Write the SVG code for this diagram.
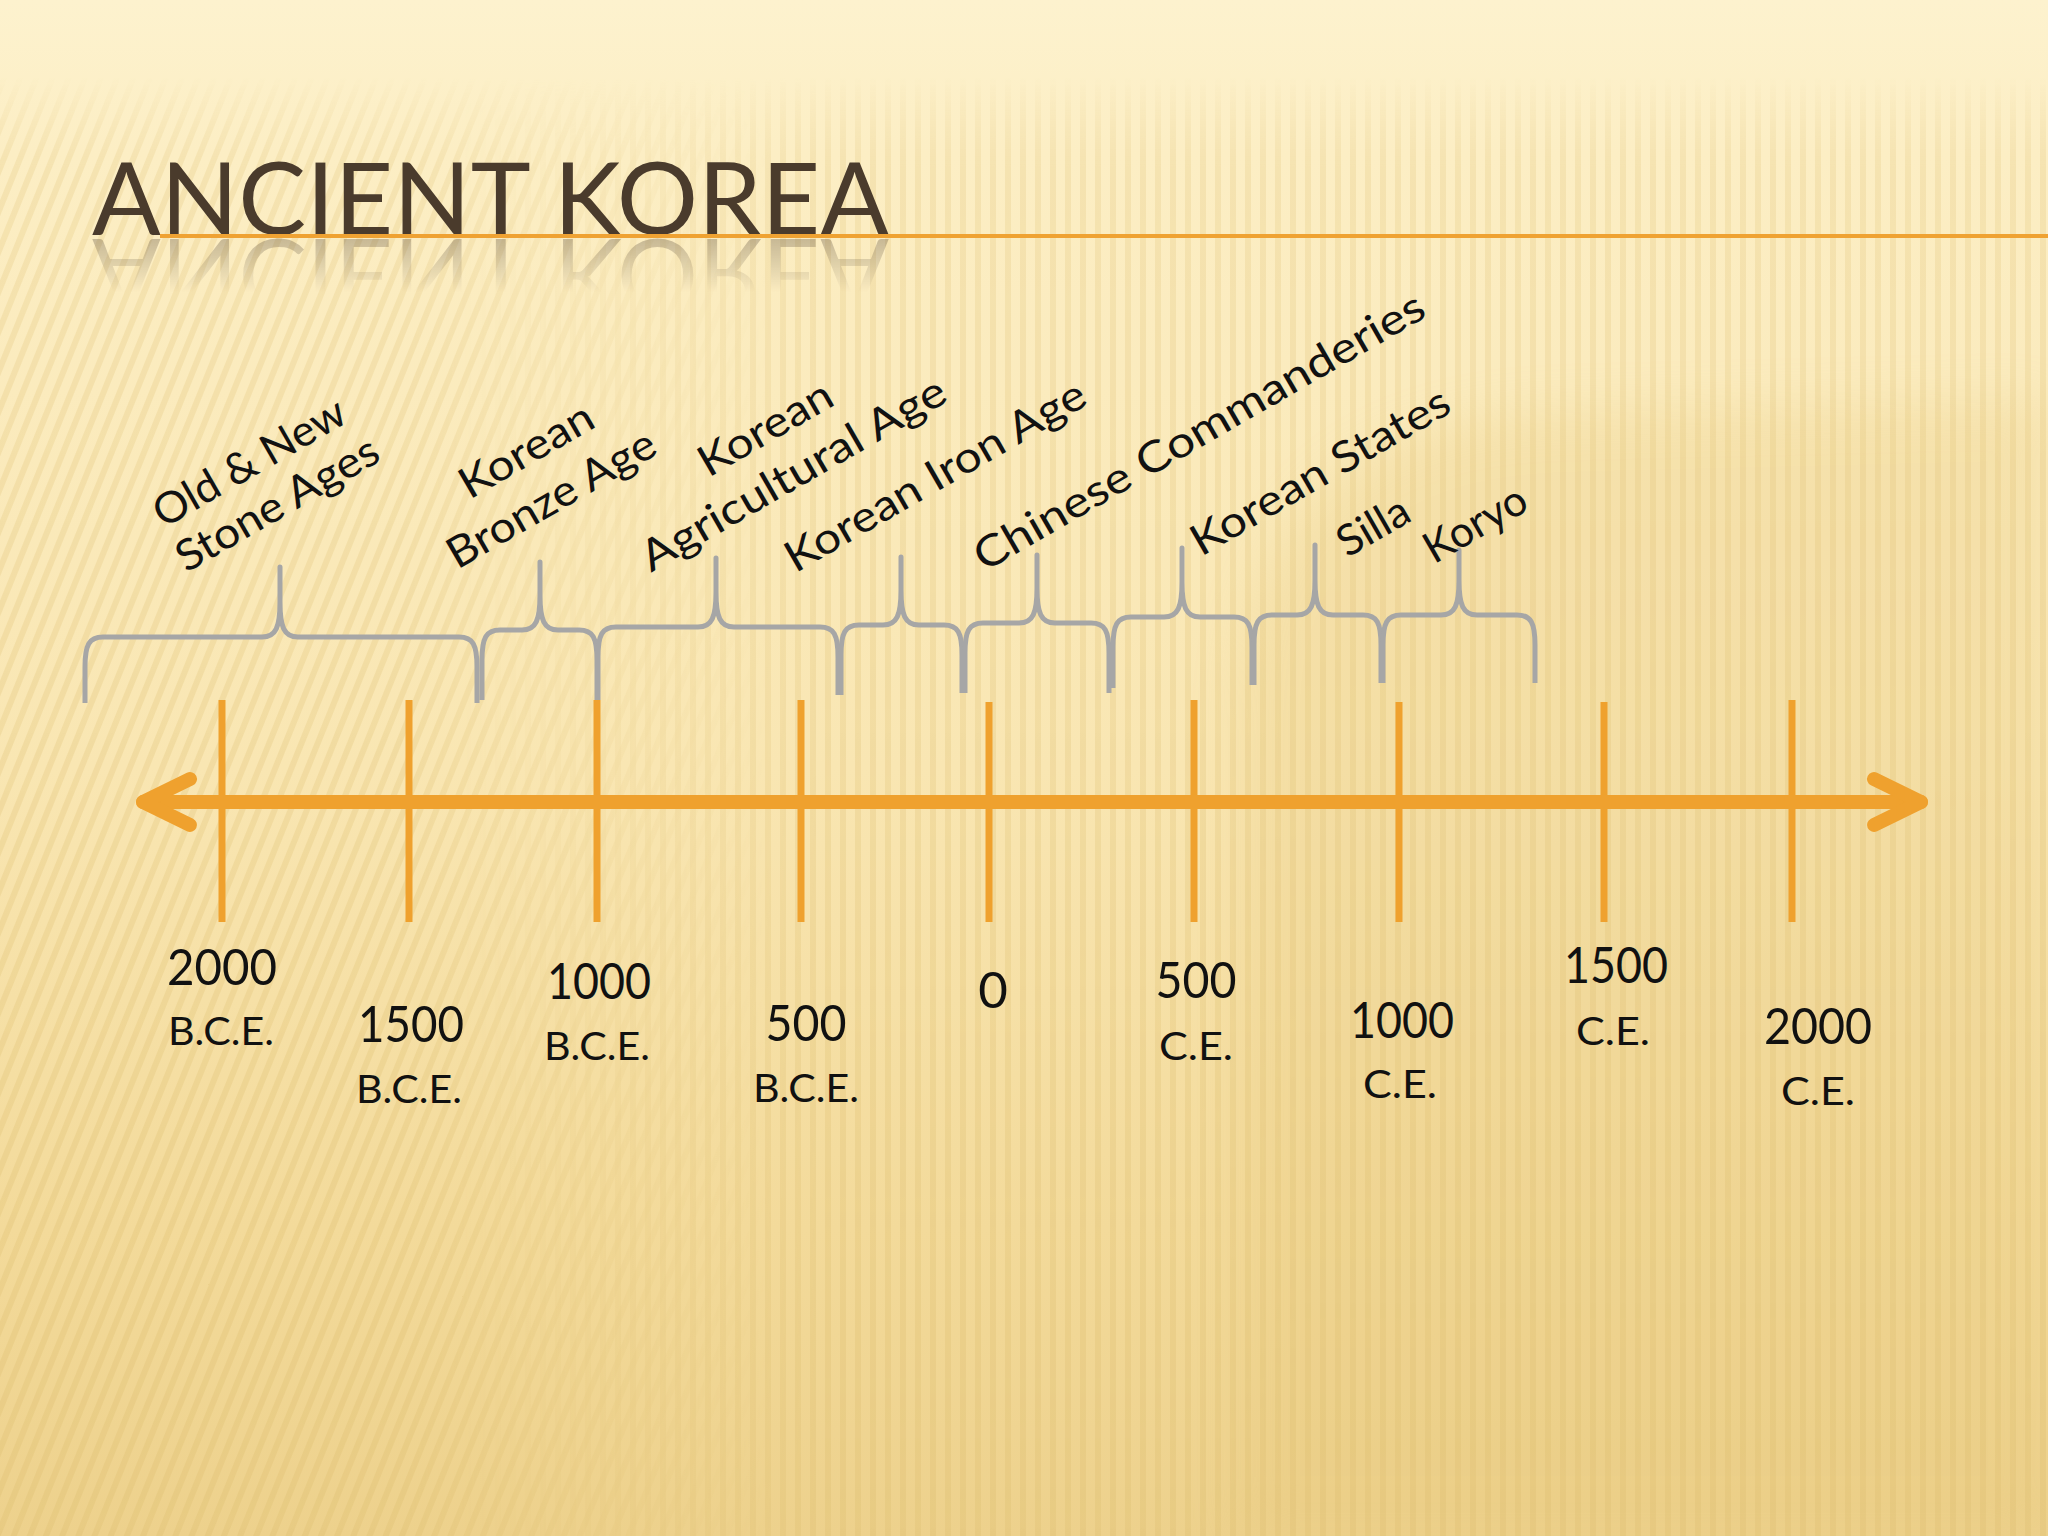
<svg xmlns="http://www.w3.org/2000/svg" width="2048" height="1536" viewBox="0 0 2048 1536">
<defs>
<style>
.lbl{font-family:Lato,"Liberation Sans",sans-serif;font-weight:400;font-size:43px;fill:#111111}
.num{font-family:Lato,"Liberation Sans",sans-serif;font-weight:400;font-size:51px;fill:#111111;text-anchor:middle}
.era{font-family:Lato,"Liberation Sans",sans-serif;font-weight:400;font-size:38px;fill:#111111;text-anchor:middle}
.title{font-family:Lato,"Liberation Sans",sans-serif;font-weight:400;font-size:101px;fill:#4A3B2C}
.brace{fill:none;stroke:#A6A6A6;stroke-width:5;stroke-linejoin:round;stroke-linecap:butt}
.axis{fill:none;stroke:#EFA12E;stroke-linecap:round;stroke-linejoin:round}
.tick{stroke:#EFA12E;stroke-width:7}
</style>
<linearGradient id="bg" x1="0" y1="0" x2="0" y2="1">
<stop offset="0" stop-color="#FDF2CE"/>
<stop offset="0.1" stop-color="#FCEEC4"/>
<stop offset="0.5" stop-color="#F9E6B2"/>
<stop offset="0.8" stop-color="#F3DA9A"/>
<stop offset="1" stop-color="#EDD18C"/>
</linearGradient>
<pattern id="stV" width="15" height="100" patternUnits="userSpaceOnUse">
<rect width="6" height="100" fill="#DDBE70"/>
</pattern>
<pattern id="stS" width="15" height="100" patternUnits="userSpaceOnUse" patternTransform="rotate(22)">
<rect width="6" height="100" fill="#DDBE70"/>
</pattern>
<linearGradient id="gL" x1="0" y1="0" x2="2048" y2="0" gradientUnits="userSpaceOnUse">
<stop offset="0" stop-color="#fff"/>
<stop offset="0.2" stop-color="#fff"/>
<stop offset="0.38" stop-color="#000"/>
</linearGradient>
<linearGradient id="gR" x1="0" y1="0" x2="2048" y2="0" gradientUnits="userSpaceOnUse">
<stop offset="0.22" stop-color="#000"/>
<stop offset="0.4" stop-color="#fff"/>
</linearGradient>
<linearGradient id="gT" x1="0" y1="0" x2="0" y2="1536" gradientUnits="userSpaceOnUse">
<stop offset="0.05" stop-color="#000"/>
<stop offset="0.11" stop-color="#fff" stop-opacity="0.7"/>
<stop offset="0.5" stop-color="#fff" stop-opacity="0.8"/>
<stop offset="1" stop-color="#fff"/>
</linearGradient>
<mask id="mL" maskUnits="userSpaceOnUse" x="0" y="0" width="2048" height="1536"><rect width="2048" height="1536" fill="url(#gL)"/></mask>
<mask id="mR" maskUnits="userSpaceOnUse" x="0" y="0" width="2048" height="1536"><rect width="2048" height="1536" fill="url(#gR)"/></mask>
<mask id="mT" maskUnits="userSpaceOnUse" x="0" y="0" width="2048" height="1536"><rect width="2048" height="1536" fill="url(#gT)"/></mask>
<linearGradient id="gRefl" x1="0" y1="238" x2="0" y2="292" gradientUnits="userSpaceOnUse">
<stop offset="0" stop-color="#fff" stop-opacity="0.3"/>
<stop offset="1" stop-color="#fff" stop-opacity="0"/>
</linearGradient>
<mask id="mRefl" maskUnits="userSpaceOnUse" x="0" y="238" width="2048" height="60"><rect x="0" y="238" width="2048" height="60" fill="url(#gRefl)"/></mask>
<filter id="blur" x="-20%" y="-20%" width="140%" height="140%"><feGaussianBlur stdDeviation="25"/></filter>
</defs>

<g id="background">
<rect width="2048" height="1536" fill="url(#bg)"/>
<path d="M1240,1536 L1240,720 Q1240,420 1560,412 L2048,400 L2048,1536 Z" fill="#E4C474" opacity="0.22" filter="url(#blur)"/>
<g mask="url(#mT)" opacity="0.32">
<rect width="2048" height="1536" fill="url(#stS)" mask="url(#mL)"/>
<rect width="2048" height="1536" fill="url(#stV)" mask="url(#mR)"/>
</g>
</g>

<g id="title">
<text class="title" x="92" y="235" textLength="797" lengthAdjust="spacingAndGlyphs">ANCIENT KOREA</text>
<g mask="url(#mRefl)">
<g transform="translate(0,474) scale(1,-1)">
<text class="title" x="92" y="235" textLength="797" lengthAdjust="spacingAndGlyphs" fill="#7A6A55">ANCIENT KOREA</text>
</g>
</g>
<line x1="160" y1="236" x2="2048" y2="236" stroke="#EFA232" stroke-width="4"/>
</g>

<g id="connectors">
<g id="axis">
<line class="axis" x1="143" y1="802" x2="1921" y2="802" stroke-width="14"/>
<polyline class="axis" points="1874,779 1921,802 1874,825" stroke-width="14"/>
<polyline class="axis" points="190,779 143,802 190,825" stroke-width="14"/>
<line class="tick" x1="222" y1="700" x2="222" y2="922"/>
<line class="tick" x1="409" y1="700" x2="409" y2="922"/>
<line class="tick" x1="597" y1="700" x2="597" y2="922"/>
<line class="tick" x1="801" y1="700" x2="801" y2="922"/>
<line class="tick" x1="989" y1="702" x2="989" y2="922"/>
<line class="tick" x1="1194" y1="700" x2="1194" y2="922"/>
<line class="tick" x1="1399" y1="702" x2="1399" y2="922"/>
<line class="tick" x1="1604" y1="702" x2="1604" y2="922"/>
<line class="tick" x1="1792" y1="700" x2="1792" y2="922"/>
</g>
<g id="braces">
<path class="brace" d="M85,703 L85,667 C85,645 89,637 103,637 L262,637 C276,637 280,627 280,602 L280,567 L280,602 C280,627 284,637 298,637 L459,637 C473,637 477,645 477,667 L477,703"/>
<path class="brace" d="M482,700 L482,660 C482,638 486,630 500,630 L522,630 C536,630 540,620 540,595 L540,562 L540,595 C540,620 544,630 558,630 L579,630 C593,630 597,638 597,660 L597,700"/>
<path class="brace" d="M598,700 L598,657 C598,635 602,627 616,627 L698,627 C712,627 716,617 716,592 L716,558 L716,592 C716,617 720,627 734,627 L820,627 C834,627 838,635 838,657 L838,695"/>
<path class="brace" d="M841,695 L841,655 C841,633 845,625 859,625 L883,625 C897,625 901,615 901,590 L901,557 L901,590 C901,615 905,625 919,625 L944,625 C958,625 962,633 962,655 L962,693"/>
<path class="brace" d="M965,693 L965,653 C965,631 969,623 983,623 L1019,623 C1033,623 1037,613 1037,588 L1037,555 L1037,588 C1037,613 1041,623 1055,623 L1091,623 C1105,623 1109,631 1109,653 L1109,693"/>
<path class="brace" d="M1113,688 L1113,647 C1113,625 1117,617 1131,617 L1164,617 C1178,617 1182,607 1182,582 L1182,548 L1182,582 C1182,607 1186,617 1200,617 L1234,617 C1248,617 1252,625 1252,647 L1252,685"/>
<path class="brace" d="M1254,685 L1254,645 C1254,623 1258,615 1272,615 L1297,615 C1311,615 1315,605 1315,580 L1315,545 L1315,580 C1315,605 1319,615 1333,615 L1363,615 C1377,615 1381,623 1381,645 L1381,683"/>
<path class="brace" d="M1383,683 L1383,645 C1383,623 1387,615 1401,615 L1441,615 C1455,615 1459,605 1459,580 L1459,550 L1459,580 C1459,605 1463,615 1477,615 L1517,615 C1531,615 1535,623 1535,645 L1535,683"/>
</g>
</g>

<g id="period-labels">
<g id="label-stone"><text class="lbl" transform="translate(249,462) rotate(-30)" x="0" y="15" text-anchor="middle" textLength="215" lengthAdjust="spacingAndGlyphs">Old &amp; New</text>
<text class="lbl" transform="translate(279,507) rotate(-30)" x="0" y="11" text-anchor="middle" textLength="227" lengthAdjust="spacingAndGlyphs">Stone Ages</text></g>
<g id="label-bronze"><text class="lbl" transform="translate(526,450) rotate(-30)" x="0" y="15" text-anchor="middle" textLength="148" lengthAdjust="spacingAndGlyphs">Korean</text>
<text class="lbl" transform="translate(553,502) rotate(-30)" x="0" y="11" text-anchor="middle" textLength="234" lengthAdjust="spacingAndGlyphs">Bronze Age</text></g>
<g id="label-agri"><text class="lbl" transform="translate(765,428) rotate(-30)" x="0" y="15" text-anchor="middle" textLength="148" lengthAdjust="spacingAndGlyphs">Korean</text>
<text class="lbl" transform="translate(795,477) rotate(-30)" x="0" y="11" text-anchor="middle" textLength="345" lengthAdjust="spacingAndGlyphs">Agricultural Age</text></g>
<g id="label-iron"><text class="lbl" transform="translate(937,479) rotate(-30)" x="0" y="11" text-anchor="middle" textLength="340" lengthAdjust="spacingAndGlyphs">Korean Iron Age</text></g>
<g id="label-chinese"><text class="lbl" transform="translate(1199,431) rotate(-30)" x="0" y="15" text-anchor="middle" textLength="513" lengthAdjust="spacingAndGlyphs">Chinese Commanderies</text></g>
<g id="label-states"><text class="lbl" transform="translate(1320,471) rotate(-30)" x="0" y="15" text-anchor="middle" textLength="292" lengthAdjust="spacingAndGlyphs">Korean States</text></g>
<g id="label-silla"><text class="lbl" transform="translate(1373,526) rotate(-30)" x="0" y="15" text-anchor="middle" textLength="77" lengthAdjust="spacingAndGlyphs">Silla</text></g>
<g id="label-koryo"><text class="lbl" transform="translate(1477,527) rotate(-30)" x="0" y="11" text-anchor="middle" textLength="112" lengthAdjust="spacingAndGlyphs">Koryo</text></g>
</g>

<g id="date-labels">
<g id="d-2000bce"><text class="num" x="222" y="985" textLength="110" lengthAdjust="spacingAndGlyphs">2000</text><text class="era" x="221" y="1045" textLength="106" lengthAdjust="spacingAndGlyphs">B.C.E.</text></g>
<g id="d-1500bce"><text class="num" x="411" y="1042" textLength="106" lengthAdjust="spacingAndGlyphs">1500</text><text class="era" x="409" y="1103" textLength="106" lengthAdjust="spacingAndGlyphs">B.C.E.</text></g>
<g id="d-1000bce"><text class="num" x="599" y="999" textLength="104" lengthAdjust="spacingAndGlyphs">1000</text><text class="era" x="597" y="1060" textLength="106" lengthAdjust="spacingAndGlyphs">B.C.E.</text></g>
<g id="d-500bce"><text class="num" x="806" y="1041" textLength="81" lengthAdjust="spacingAndGlyphs">500</text><text class="era" x="806" y="1102" textLength="106" lengthAdjust="spacingAndGlyphs">B.C.E.</text></g>
<g id="d-0"><text class="num" x="993" y="1008">0</text></g>
<g id="d-500ce"><text class="num" x="1196" y="998" textLength="81" lengthAdjust="spacingAndGlyphs">500</text><text class="era" x="1196" y="1060" textLength="74" lengthAdjust="spacingAndGlyphs">C.E.</text></g>
<g id="d-1000ce"><text class="num" x="1402" y="1038" textLength="104" lengthAdjust="spacingAndGlyphs">1000</text><text class="era" x="1400" y="1098" textLength="74" lengthAdjust="spacingAndGlyphs">C.E.</text></g>
<g id="d-1500ce"><text class="num" x="1616" y="983" textLength="104" lengthAdjust="spacingAndGlyphs">1500</text><text class="era" x="1613" y="1045" textLength="74" lengthAdjust="spacingAndGlyphs">C.E.</text></g>
<g id="d-2000ce"><text class="num" x="1818" y="1044" textLength="108" lengthAdjust="spacingAndGlyphs">2000</text><text class="era" x="1818" y="1105" textLength="74" lengthAdjust="spacingAndGlyphs">C.E.</text></g>
</g>
</svg>
